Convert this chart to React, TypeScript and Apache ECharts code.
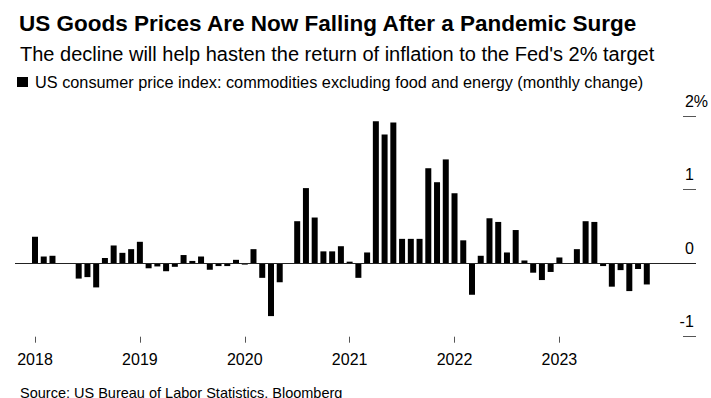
import React, { useEffect, useRef } from "react";
import * as echarts from "echarts";

const FONT = "'Liberation Sans', Arial, sans-serif";

const titleText = "US Goods Prices Are Now Falling After a Pandemic Surge";
const subtitleText = "The decline will help hasten the return of inflation to the Fed's 2% target";
const seriesName = "US consumer price index: commodities excluding food and energy (monthly change)";
const sourceText = "Source: US Bureau of Labor Statistics, Bloomberg";

const startYear = 2018;
const yearTicks = [2018, 2019, 2020, 2021, 2022, 2023];
const yTicks = [-1, 0, 1, 2];

// Monthly change, %, Jan 2018 .. Nov 2023
const v2018 = [0.36, 0.09, 0.1, -0.01, -0.01, -0.21, -0.19, -0.33, 0.07, 0.24, 0.14, 0.19];
const v2019 = [0.29, -0.07, -0.045, -0.11, -0.05, 0.11, 0.03, 0.09, -0.09, -0.04, -0.04, 0.045];
const v2020 = [-0.02, 0.19, -0.2, -0.72, -0.26, -0.01, 0.57, 1.02, 0.62, 0.16, 0.16, 0.23];
const v2021 = [0.02, -0.2, 0.145, 1.93, 1.75, 1.91, 0.33, 0.33, 0.33, 1.29, 1.1, 1.41];
const v2022 = [0.95, 0.31, -0.43, 0.1, 0.61, 0.56, 0.145, 0.45, 0.036, -0.13, -0.23, -0.12];
const v2023 = [0.077, 0.0, 0.19, 0.57, 0.56, -0.04, -0.32, -0.095, -0.38, -0.08, -0.29];

const values = [...v2018, ...v2019, ...v2020, ...v2021, ...v2022, ...v2023];

export default function App() {
  const ref = useRef<HTMLDivElement>(null);

  useEffect(() => {
    if (!ref.current) return;
    const chart = echarts.init(ref.current, null, { renderer: "svg" });
    const data = values.map((v, i) => [i, v]);
    const tickIdx = yearTicks.map((y) => (y - startYear) * 12);

    chart.setOption({
      animation: false,
      backgroundColor: "#fff",
      textStyle: { fontFamily: FONT },
      title: [
        {
          text: titleText,
          left: 14,
          top: 7,
          textStyle: { fontFamily: FONT, fontSize: 22.5, fontWeight: "bold", color: "#000" },
        },
        {
          text: subtitleText,
          left: 15,
          top: 39,
          textStyle: { fontFamily: FONT, fontSize: 20, fontWeight: "normal", color: "#000" },
        },
        {
          text: sourceText,
          left: 15,
          top: 380,
          textStyle: { fontFamily: FONT, fontSize: 14.5, fontWeight: "normal", color: "#000" },
        },
      ],
      legend: {
        left: 15,
        top: 72,
        icon: "rect",
        itemWidth: 11,
        itemHeight: 10,
        padding: 2,
        textStyle: { fontFamily: FONT, fontSize: 16.3, color: "#000", padding: [0, 0, 0, 2] },
        data: [seriesName],
      },
      grid: { left: 15, right: 15, top: 116, bottom: 61.3, containLabel: false },
      xAxis: {
        type: "value",
        min: -2.288,
        max: 75.63,
        axisLine: { show: false, onZero: false },
        splitLine: { show: false },
        axisTick: {
          show: true,
          customValues: tickIdx,
          length: 6,
          lineStyle: { color: "#555", width: 1 },
        },
        axisLabel: {
          customValues: tickIdx,
          formatter: (v: number) => String(startYear + Math.round(v / 12)),
          fontFamily: FONT,
          fontSize: 16,
          color: "#000",
          margin: 15,
        },
      },
      yAxis: {
        type: "value",
        position: "right",
        min: -1,
        max: 2,
        interval: 1,
        axisLine: { show: false, onZero: false },
        splitLine: { show: false },
        axisTick: { show: true, inside: true, length: 13, lineStyle: { color: "#555", width: 1 } },
        axisLabel: {
          inside: true,
          margin: -12,
          align: "right",
          verticalAlign: "bottom",
          padding: [0, 0, 7, 0],
          fontFamily: FONT,
          fontSize: 16,
          color: "#000",
          formatter: (v: number) => (v === yTicks[yTicks.length - 1] ? v + "%" : v + "{h|%}"),
          rich: {
            h: { color: "rgba(0,0,0,0)", fontSize: 16, fontFamily: FONT },
          },
        },
      },
      series: [
        {
          name: seriesName,
          type: "bar",
          data,
          barWidth: 6,
          itemStyle: { color: "#000" },
          markLine: {
            silent: true,
            symbol: "none",
            label: { show: false },
            lineStyle: { color: "#222", width: 1, type: "solid" },
            data: [{ yAxis: 0 }],
          },
        },
      ],
    });
    return () => chart.dispose();
  }, []);

  return (
    <div
      ref={ref}
      style={{ position: "fixed", left: 0, top: 0, width: 711, height: 398, background: "#fff" }}
    />
  );
}
